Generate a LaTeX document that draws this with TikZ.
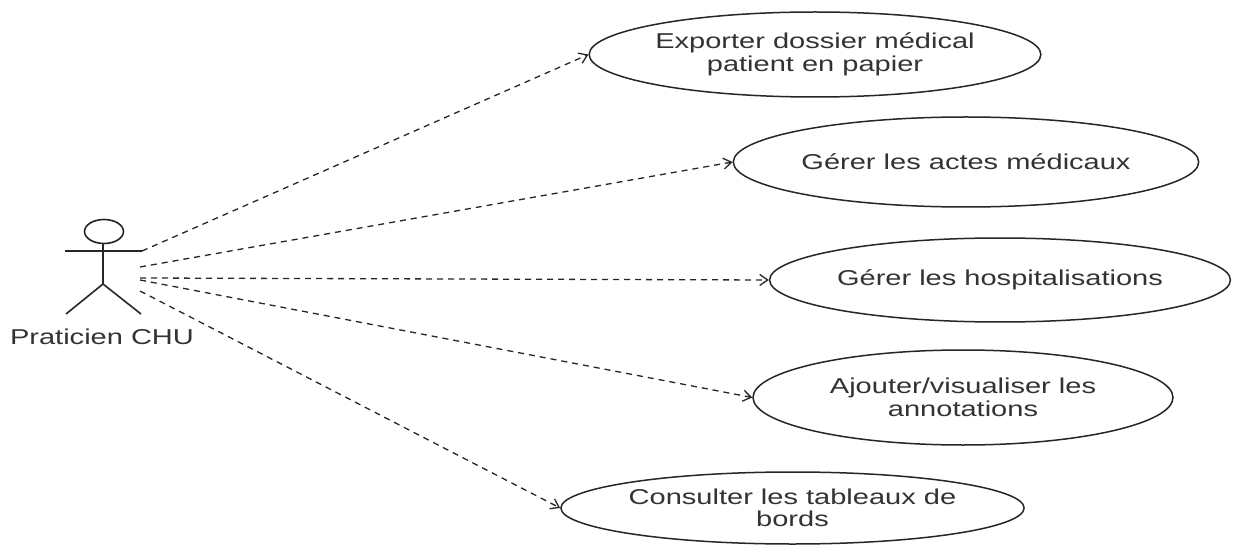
\documentclass[tikz,border=0pt]{standalone}
\usepackage{fontspec}
\setmainfont{Liberation Sans}[FakeStretch=1.35]
\usetikzlibrary{shapes.geometric,arrows.meta}
\begin{document}
\begin{tikzpicture}[x=1pt,y=-1pt,
  usecase/.style={ellipse,draw=black!85,line width=1.5pt,inner sep=0pt,
    align=center,text=black!80,font=\fontsize{21.5}{22.5}\selectfont},
  actorline/.style={draw=black!85,line width=1.6pt},
  actorlabel/.style={text=black!80,font=\fontsize{21.5}{22.5}\selectfont,inner sep=0pt},
  dep/.style={draw=black!85,line width=1.3pt,dash pattern=on 6pt off 5pt,
    -{Straight Barb[length=8pt,width=11pt]}}]
\useasboundingbox (0,0) rectangle (1233,545);
\fill[white] (0,0) rectangle (1233,545);

% use cases
\node[usecase,minimum width=416pt,minimum height=85pt] (uc1) at (815,54.5)
  {Exporter dossier médical\\patient en papier};
\node[usecase,minimum width=448pt,minimum height=90pt] (uc2) at (966,162)
  {Gérer les actes médicaux};
\node[usecase,minimum width=444pt,minimum height=84pt] (uc3) at (1000,280)
  {Gérer les hospitalisations};
\node[usecase,minimum width=420pt,minimum height=95pt] (uc4) at (963,397.5)
  {Ajouter/visualiser les\\annotations};
\node[usecase,minimum width=421pt,minimum height=72pt] (uc5) at (792.5,508)
  {Consulter les tableaux de\\bords};

% actor (stick figure)
\draw[actorline] (104,231.5) ellipse [x radius=19.5pt, y radius=12pt];
\draw[actorline] (65,251) -- (142,251);
\draw[actorline] (103,243.5) -- (103,284);
\draw[actorline] (66,314) -- (103,284) -- (141,314);
\node[actorlabel] (actor) at (102,337) {Praticien CHU};

% connector origins on the actor
\coordinate (s1) at (142,251);
\coordinate (s2) at (140,267);
\coordinate (s3) at (140,278);
\coordinate (s4) at (140,280);
\coordinate (s5) at (140,291);

% dependencies
\draw[dep] (s1) -- (uc1.west);
\draw[dep] (s2) -- (uc2.west);
\draw[dep] (s3) -- (uc3.west);
\draw[dep] (s4) -- (uc4.west);
\draw[dep] (s5) -- (uc5.west);
\end{tikzpicture}
\end{document}
